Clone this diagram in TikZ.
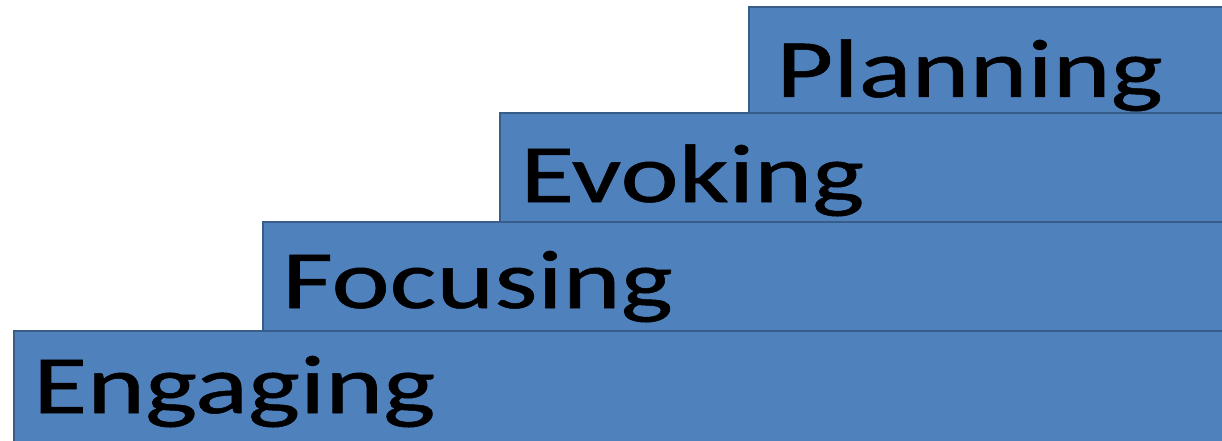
\documentclass[tikz,border=0pt]{standalone}
\usepackage{fontspec}
\setmainfont{Carlito}
\newfontfamily\stairfont{Carlito}[FakeBold=0.6]
\definecolor{stepfill}{RGB}{79,129,189}
\definecolor{stepline}{RGB}{56,93,138}
\begin{document}
\begin{tikzpicture}[x=1pt,y=1pt,
  stair/.style={fill=stepfill,draw=stepline,line width=2pt},
  lbl/.style={anchor=base west,inner sep=0pt,font=\stairfont\fontsize{83}{83}\selectfont,xscale=1.33,text=black}]
\useasboundingbox (0,0) rectangle (1222,440);
\fill[white] (0,0) rectangle (1222,440);
\draw[stair] (749,327) rectangle (1240,433);
\draw[stair] (500,218) rectangle (1240,327);
\draw[stair] (263,109) rectangle (1240,218);
\draw[stair] (14,-10) rectangle (1240,109);
\node[lbl] (p) at (776,343) {Planning};
\node[lbl] (e) at (520,238) {Evoking};
\node[lbl] (f) at (282,132) {Focusing};
\node[lbl] (g) at (33,27) {Engaging};
\end{tikzpicture}
\end{document}
